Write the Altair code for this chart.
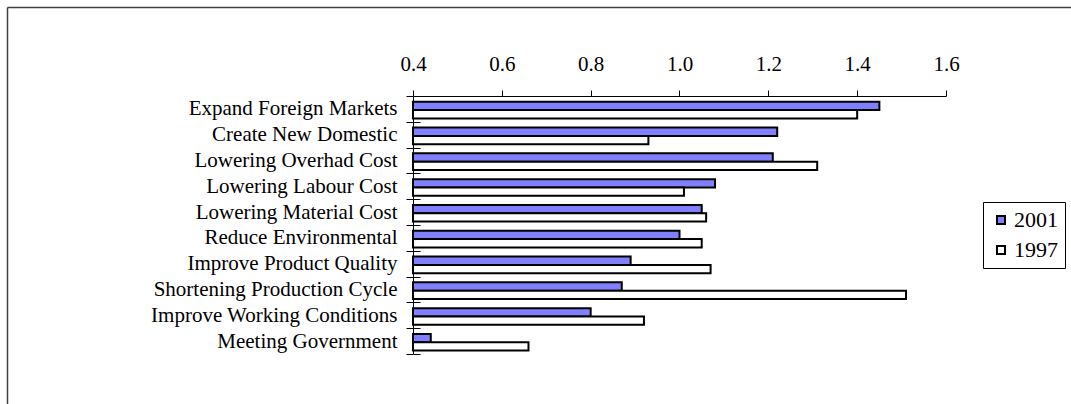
import altair as alt
import pandas as pd

# Survey factors (rows top to bottom) and mean scores for each survey year
factors = [
    "Expand Foreign Markets",
    "Create New Domestic",
    "Lowering Overhad Cost",
    "Lowering Labour Cost",
    "Lowering Material Cost",
    "Reduce Environmental",
    "Improve Product Quality",
    "Shortening Production Cycle",
    "Improve Working Conditions",
    "Meeting Government",
]
scores_2001 = [1.45, 1.22, 1.21, 1.08, 1.05, 1.00, 0.89, 0.87, 0.80, 0.44]
scores_1997 = [1.40, 0.93, 1.31, 1.01, 1.06, 1.05, 1.07, 1.51, 0.92, 0.66]
years = ["2001", "1997"]
year_colors = ["#8080FF", "#FFFFFF"]
x_ticks = [0.4, 0.6, 0.8, 1.0, 1.2, 1.4, 1.6]
x_min, x_max = 0.4, 1.6

rows = []
for f, a, b in zip(factors, scores_2001, scores_1997):
    rows.append({"factor": f, "year": years[0], "score": a})
    rows.append({"factor": f, "year": years[1], "score": b})
df = pd.DataFrame(rows)

FONT = "Liberation Serif"
W, H = 533, 258
PAD = {"left": 413, "top": 96, "right": 1071 - 413 - W, "bottom": 404 - 96 - H}

bars = (
    alt.Chart(df)
    .mark_bar(stroke="black", strokeWidth=2)
    .encode(
        x=alt.X(
            "score:Q",
            scale=alt.Scale(domain=[x_min, x_max], zero=False, nice=False),
            axis=alt.Axis(
                title=None,
                orient="top",
                values=x_ticks,
                format=".1f",
                labelFont=FONT,
                labelFontSize=21,
                labelColor="black",
                labelPadding=16,
                labelFlush=False,
                tickSize=6,
                tickColor="black",
                domainColor="black",
                grid=False,
            ),
        ),
        # bars start at the axis minimum, like the category axis crossing
        x2=alt.datum(x_min),
        y=alt.Y(
            "factor:N",
            sort=factors,
            scale=alt.Scale(paddingInner=0, paddingOuter=0),
            axis=alt.Axis(
                title=None,
                orient="left",
                labelFont=FONT,
                labelFontSize=21,
                labelColor="black",
                labelLimit=400,
                labelPadding=9,
                tickSize=7,
                tickColor="black",
                tickBand="extent",
                domainColor="black",
            ),
        ),
        yOffset=alt.YOffset(
            "year:N",
            sort=years,
            scale=alt.Scale(domain=years, paddingInner=0, paddingOuter=0.55, align=0.63),
        ),
        color=alt.Color(
            "year:N",
            sort=years,
            scale=alt.Scale(domain=years, range=year_colors),
            legend=alt.Legend(
                title=None,
                orient="none",
                legendX=570,
                legendY=106,
                padding=7,
                rowPadding=8,
                strokeColor="black",
                fillColor="white",
                symbolType="square",
                symbolSize=64,
                symbolStrokeColor="black",
                symbolStrokeWidth=2,
                labelFont=FONT,
                labelFontSize=22,
                labelColor="black",
                labelOffset=2,
            ),
        ),
    )
)

# Inner half of the category ticks, drawn by a second axis sitting on the left edge
inner_ticks = (
    alt.Chart(df)
    .mark_tick(opacity=0)
    .encode(
        y=alt.Y(
            "factor:N",
            sort=factors,
            axis=alt.Axis(
                title=None,
                orient="right",
                offset=-W,
                labels=False,
                domain=False,
                tickSize=7,
                tickColor="black",
                tickBand="extent",
            ),
        ),
    )
)

# Chart-area frame (top and left edges)
frame_top = (
    alt.Chart(alt.Data(values=[{}]))
    .mark_rule(color="#404040", strokeWidth=1.5)
    .encode(x=alt.value(-405.5), x2=alt.value(W + 200), y=alt.value(-88.5))
)
frame_left = (
    alt.Chart(alt.Data(values=[{}]))
    .mark_rule(color="#404040", strokeWidth=1.5)
    .encode(x=alt.value(-405.5), y=alt.value(-88.5), y2=alt.value(H + 200))
)

chart = (
    alt.layer(bars, inner_ticks, frame_top, frame_left)
    .resolve_axis(y="independent")
    .properties(
        width=W,
        height=H,
        padding=PAD,
        autosize=alt.AutoSizeParams(type="none"),
        background="white",
    )
    .configure_view(strokeWidth=0)
    .configure_axis(labelFont=FONT)
    .configure_legend(labelFont=FONT)
    .configure_text(font=FONT)
)

chart.save("out.html", embed_options={"renderer": "svg", "actions": False})
